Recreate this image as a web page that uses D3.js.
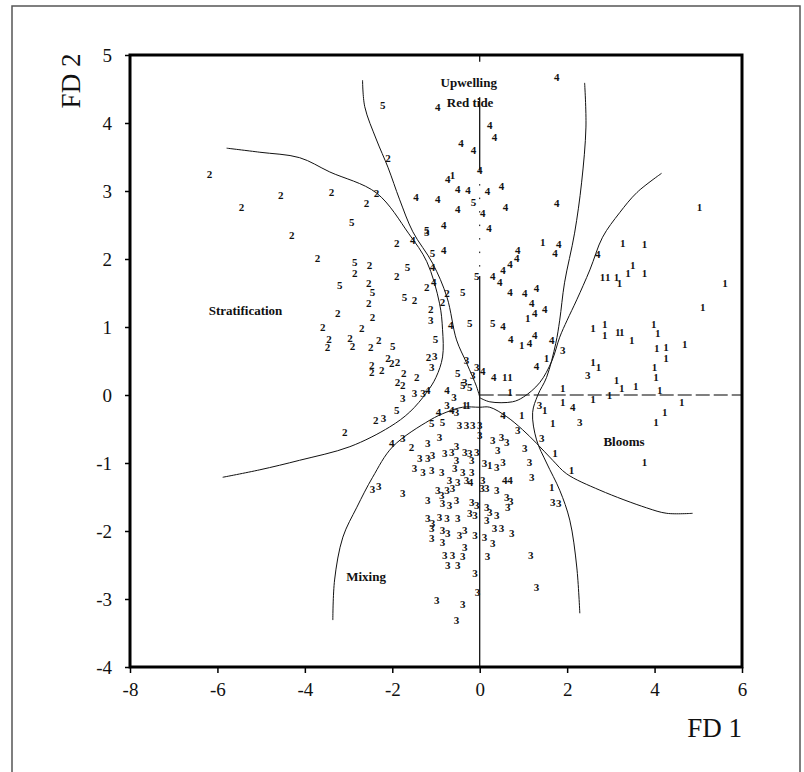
<!DOCTYPE html>
<html>
<head>
<meta charset="utf-8">
<title>FD1 / FD2</title>
<style>
  body { margin: 0; background: #fff; }
  svg { display: block; }
  text { font-family: "Liberation Serif", "DejaVu Serif", serif; }
</style>
</head>
<body>
<script src="https://cdn.jsdelivr.net/npm/d3@7"></script>
<script>
var width = 804, height = 772;

// axis ticks
var xTicks = [-8, -6, -4, -2, 0, 2, 4, 6];
var yTicks = [-4, -3, -2, -1, 0, 1, 2, 3, 4, 5];

// samples, one array per group (marker = group number)
var group1 = [[-0.62,3.24],[1.44,2.25],[3.27,2.24],[3.77,2.22],[5.03,2.76],[2.81,1.74],[2.93,1.74],[3.13,1.74],
  [3.20,1.65],[3.39,1.79],[3.50,1.91],[3.77,1.79],[5.61,1.65],[5.10,1.29],[2.59,0.99],[2.86,1.04],[2.86,0.88],
  [3.16,0.93],[3.25,0.93],[3.48,0.81],[3.98,1.04],[4.07,0.91],[4.05,0.69],[4.26,0.71],[4.26,0.54],[4.69,0.75],
  [2.59,0.49],[2.72,0.41],[4.00,0.41],[4.03,0.26],[3.13,0.22],[3.25,0.10],[3.57,0.13],[4.12,0.07],[1.90,0.10],
  [1.90,-0.10],[2.59,-0.06],[2.97,0.0],[4.62,-0.10],[4.23,-0.25],[4.03,-0.40],[3.77,-0.99],[1.67,-0.41],
  [1.72,-0.85],[2.10,-1.10],[1.49,-0.22],[0.96,-0.29],[0.69,0.04],[1.10,1.13],[0.96,0.74],[1.53,0.54],
  [0.57,0.26],[0.69,0.26],[-0.34,-0.15],[-0.27,-0.15],[0.23,-1.03],[1.65,-1.35]];

var group2 = [[-6.18,3.25],[-5.45,2.76],[-4.55,2.94],[-4.30,2.35],[-3.39,2.99],[-3.71,2.01],[-2.36,2.97],
  [-2.59,2.82],[-2.10,3.49],[-1.90,2.24],[-2.52,1.91],[-2.86,1.79],[-2.54,1.65],[-2.54,1.35],[-3.25,1.21],
  [-2.45,1.15],[-3.59,1.00],[-2.70,0.99],[-3.45,0.82],[-3.48,0.71],[-2.97,0.84],[-2.91,0.72],[-2.49,0.71],
  [-2.31,0.81],[-2.10,0.54],[-2.01,0.47],[-1.88,0.49],[-2.47,0.44],[-2.47,0.34],[-2.24,0.37],[-1.74,0.32],
  [-1.88,0.19],[-1.76,0.15],[-1.44,0.26],[-2.38,-0.37],[-3.09,-0.54],[-1.90,1.75],[-1.49,1.40],[-1.21,1.59],
  [-0.85,1.37],[-0.75,1.50],[-1.12,1.26],[-1.17,0.56],[-1.56,-0.76]];

var group3 = [[-1.76,-0.04],[-1.49,0.03],[-1.30,0.03],[-2.20,-0.34],[-1.12,1.10],[-1.03,0.57],[-1.10,0.41],
  [-0.30,0.51],[-0.16,0.29],[-0.07,0.41],[-0.34,0.19],[-0.59,-0.03],[-0.75,-0.15],[-0.53,-0.25],[-1.21,2.40],
  [2.47,0.29],[1.90,0.66],[1.37,-0.15],[2.29,-0.40],[0.87,-0.51],[1.42,-0.63],[1.03,-0.78],[1.14,-0.99],
  [1.19,-1.21],[1.67,-1.57],[1.81,-1.59],[1.17,-2.35],[1.30,-2.82],[-1.76,-0.63],[-1.19,-0.71],[-0.92,-0.62],
  [-2.45,-1.38],[-2.31,-1.34],[-1.76,-1.44],[-0.46,-0.44],[-0.30,-0.44],[-0.16,-0.44],[0.0,-0.44],[0.0,-0.59],
  [0.30,-0.66],[0.50,-0.62],[0.62,-0.69],[0.41,-0.81],[-1.37,-0.93],[-1.19,-0.93],[-1.08,-0.88],[-0.80,-0.85],
  [-0.64,-0.84],[-0.53,-0.75],[-0.34,-0.84],[-0.23,-0.85],[-0.07,-0.84],[-1.49,-1.07],[-1.30,-1.13],
  [-1.10,-1.10],[-0.87,-1.13],[-0.57,-1.07],[-0.39,-1.13],[-0.18,-1.13],[-0.53,-0.96],[-0.18,-0.96],
  [0.11,-1.00],[0.39,-1.06],[0.53,-0.99],[-0.69,-1.25],[-0.50,-1.28],[-0.30,-1.25],[0.07,-1.25],[-0.96,-1.40],
  [-0.75,-1.40],[-0.62,-1.37],[-0.87,-1.47],[0.05,-1.37],[0.16,-1.37],[0.39,-1.40],[0.62,-1.50],[-1.19,-1.54],
  [-0.85,-1.59],[-0.69,-1.62],[-0.53,-1.54],[-0.18,-1.57],[-0.07,-1.62],[0.16,-1.65],[0.23,-1.72],[0.39,-1.76],
  [0.64,-1.65],[0.71,-1.56],[-1.19,-1.81],[-1.08,-1.88],[-0.92,-1.79],[-0.75,-1.81],[-0.50,-1.81],[-0.23,-1.74],
  [-0.11,-1.76],[0.16,-1.84],[-1.10,-1.96],[-0.85,-1.99],[-0.73,-2.03],[-0.46,-2.06],[-0.34,-1.99],[-0.11,-2.06],
  [0.11,-2.09],[0.34,-1.96],[0.50,-1.96],[0.73,-2.03],[-1.10,-2.10],[-0.85,-2.16],[0.30,-2.18],[-0.80,-2.35],
  [-0.62,-2.35],[-0.34,-2.24],[-0.39,-2.37],[0.18,-2.37],[-0.73,-2.50],[-0.50,-2.50],[-0.11,-2.62],[-0.05,-2.90],
  [-0.98,-3.01],[-0.39,-3.07],[-0.53,-3.31]];

var group4 = [[1.76,4.68],[-0.96,4.24],[0.23,3.97],[0.34,3.79],[-0.43,3.71],[-0.14,3.60],[0.0,3.31],[-1.46,2.91],
  [-0.96,2.88],[-0.73,3.18],[-0.50,3.03],[-0.27,3.01],[0.18,3.00],[0.50,3.07],[-0.50,2.74],[0.07,2.68],[0.59,2.76],
  [0.21,2.46],[-0.82,2.50],[-1.53,2.28],[-0.82,2.13],[-1.08,1.88],[-1.05,1.66],[-0.66,1.03],[-0.75,0.07],
  [-1.19,0.07],[-0.94,-0.25],[-0.64,-0.22],[1.76,2.82],[1.81,2.22],[1.72,2.09],[2.70,2.07],[0.87,2.13],[0.85,2.01],
  [0.69,1.93],[0.53,1.84],[0.30,1.75],[0.46,1.66],[0.69,1.51],[1.03,1.50],[1.30,1.57],[1.19,1.35],[1.26,1.21],
  [1.49,1.26],[0.53,1.01],[0.71,0.82],[1.14,0.76],[1.26,0.88],[1.65,0.81],[1.30,0.43],[0.53,-0.29],[2.13,-0.18],
  [0.07,0.35],[0.32,0.26],[-2.01,-0.71],[-0.21,-1.28],[0.57,-1.25],[0.69,-1.25]];

var group5 = [[-2.22,4.26],[-2.93,2.54],[-2.86,1.96],[-3.20,1.62],[-2.45,1.51],[-1.99,0.72],[-1.90,-0.22],
  [-1.08,2.09],[-1.65,1.88],[-1.72,1.44],[-0.39,1.51],[-1.01,0.82],[-0.50,0.32],[-0.39,0.15],[-0.23,0.12],
  [-1.10,-0.41],[-0.85,-0.40],[-1.21,2.43],[-0.07,1.75],[0.30,1.06],[-0.23,1.06],[-0.14,2.84]];

var groups = [
  { label: "1", pts: group1 }, { label: "2", pts: group2 }, { label: "3", pts: group3 },
  { label: "4", pts: group4 }, { label: "5", pts: group5 }
];

// boundary curves between the regions
var curveStrat = [[-5.79,3.63],[-5.03,3.57],[-4.12,3.49],[-3.43,3.28],[-2.36,2.97],[-1.62,2.37],[-1.21,1.96],
  [-0.92,1.35],[-0.85,0.96],[-0.85,0.56],[-1.0,0.26],[-1.21,0.04],[-1.6,-0.25],[-2.06,-0.47],[-2.97,-0.76],
  [-4.12,-0.96],[-5.03,-1.10],[-5.88,-1.21]];
var curveUpper = [[-2.68,4.63],[-2.63,4.24],[-2.36,3.75],[-2.10,3.35],[-1.83,2.87],[-1.53,2.40],[-1.08,1.94],
  [-0.75,1.44],[-0.53,0.81],[-0.30,0.47],[-0.07,0.12],[0,-0.03]];
var curveMixing = [[-3.36,-3.31],[-3.32,-2.72],[-3.13,-2.09],[-2.81,-1.65],[-2.45,-1.21],[-1.99,-0.76],
  [-1.14,-0.37],[-0.75,-0.25],[-0.39,-0.18],[0,-0.18],[0.23,-0.18],[0.62,-0.32],[0.98,-0.51],[1.30,-0.71],
  [1.67,-0.96],[1.99,-1.16],[2.75,-1.40],[3.82,-1.66],[4.28,-1.74],[4.87,-1.74]];
var curveBloom = [[0,-0.04],[0.23,-0.10],[0.75,-0.10],[1.0,-0.03],[1.37,0.18],[1.65,0.50],[1.83,0.85],[2.0,1.1],
  [2.22,1.40],[2.52,1.84],[2.81,2.32],[3.20,2.68],[3.60,2.98],[4.16,3.26]];
var curveRight = [[2.40,4.59],[2.43,3.94],[2.33,3.12],[2.17,2.38],[1.94,1.65],[1.83,1.10],[1.74,0.76],
  [1.53,0.26],[1.33,0.0],[1.21,-0.26],[1.30,-0.66],[1.53,-1.0],[1.83,-1.40],[2.06,-1.84],[2.22,-2.53],[2.29,-3.21]];
var curves = [curveStrat, curveUpper, curveMixing, curveBloom, curveRight];

// region names
var regionNames = ["Upwelling", "Red tide", "Stratification", "Blooms", "Mixing"];
var regionPos = [[-0.25,4.6], [-0.22,4.3], [-6.2,1.25], [3.3,-0.69], [-2.6,-2.67]];

var svg = d3.select("body").append("svg")
  .attr("width", width)
  .attr("height", height);

// outer frame
svg.append("rect")
  .attr("x", 12).attr("y", 6)
  .attr("width", 788).attr("height", 800)
  .attr("fill", "none")
  .attr("stroke", "#555")
  .attr("stroke-width", 1.5);

var x = d3.scaleLinear().domain([-8, 6]).range([130, 742]);
var y = d3.scaleLinear().domain([-4, 5]).range([667, 55]);

var fmt = function(d) { return d < 0 ? "-" + Math.abs(d) : String(d); };

// zero lines
svg.append("line")
  .attr("x1", x(0)).attr("x2", x(0))
  .attr("y1", y(5)).attr("y2", y(4.9))
  .attr("stroke", "#000").attr("stroke-width", 1.2);
svg.append("line")
  .attr("x1", x(0)).attr("x2", x(0))
  .attr("y1", y(4.38)).attr("y2", y(3.3))
  .attr("stroke", "#000").attr("stroke-width", 1.2);
svg.append("line")
  .attr("x1", x(0)).attr("x2", x(0))
  .attr("y1", y(3.3)).attr("y2", y(1.75))
  .attr("stroke", "#000").attr("stroke-width", 1)
  .attr("stroke-dasharray", "1.5,12");
svg.append("line")
  .attr("x1", x(0)).attr("x2", x(0))
  .attr("y1", y(1.75)).attr("y2", y(-4))
  .attr("stroke", "#000").attr("stroke-width", 1.2);
svg.append("line")
  .attr("x1", x(0)).attr("x2", x(6))
  .attr("y1", y(0)).attr("y2", y(0))
  .attr("stroke", "#000").attr("stroke-width", 1.2)
  .attr("stroke-dasharray", "14,4");

// boundaries
var line = d3.line()
  .x(function(d) { return x(d[0]); })
  .y(function(d) { return y(d[1]); })
  .curve(d3.curveCatmullRom);

svg.selectAll(".boundary")
  .data(curves)
  .enter()
  .append("path")
  .attr("class", "boundary")
  .attr("d", line)
  .attr("fill", "none")
  .attr("stroke", "#111")
  .attr("stroke-width", 1);

// markers (group numbers)
groups.forEach(function(g) {
  svg.selectAll(".m" + g.label)
    .data(g.pts)
    .enter()
    .append("text")
    .attr("class", "m" + g.label)
    .attr("x", function(d) { return x(d[0]); })
    .attr("y", function(d) { return y(d[1]); })
    .attr("dy", "0.35em")
    .attr("text-anchor", "middle")
    .attr("font-size", 11)
    .attr("font-weight", "bold")
    .attr("fill", "#111")
    .text(g.label);
});

// region names
svg.selectAll(".region")
  .data(regionNames)
  .enter()
  .append("text")
  .attr("class", "region")
  .attr("x", function(d, i) { return x(regionPos[i][0]); })
  .attr("y", function(d, i) { return y(regionPos[i][1]); })
  .attr("dy", "0.35em")
  .attr("text-anchor", function(d, i) { return i == 2 ? "start" : "middle"; })
  .attr("font-size", 13)
  .attr("font-weight", "bold")
  .attr("fill", "#111")
  .text(function(d) { return d; });

// axes
var gx = svg.append("g")
  .attr("transform", "translate(0," + y(-4) + ")")
  .call(d3.axisBottom(x).tickValues(xTicks).tickFormat(fmt).tickSize(6).tickPadding(10));
var gy = svg.append("g")
  .attr("transform", "translate(" + x(-8) + ",0)")
  .call(d3.axisLeft(y).tickValues(yTicks).tickFormat(fmt).tickSize(5).tickPadding(13));

[gx, gy].forEach(function(g) {
  g.select(".domain").remove();
  g.selectAll(".tick line").attr("stroke", "#000").attr("stroke-width", 1.5);
  g.selectAll(".tick text")
    .attr("fill", "#111")
    .attr("font-size", 19)
    .attr("font-family", "Liberation Serif, serif");
});

// plot frame
svg.append("rect")
  .attr("x", x(-8)).attr("y", y(5))
  .attr("width", x(6) - x(-8)).attr("height", y(-4) - y(5))
  .attr("fill", "none")
  .attr("stroke", "#000")
  .attr("stroke-width", 3);

// axis titles
svg.append("text")
  .attr("transform", "translate(80," + 81 + ") rotate(-90)")
  .attr("text-anchor", "middle")
  .attr("font-size", 27)
  .attr("fill", "#111")
  .text("FD 2");
svg.append("text")
  .attr("x", 742).attr("y", 737)
  .attr("text-anchor", "end")
  .attr("font-size", 27)
  .attr("fill", "#111")
  .text("FD 1");
</script>
</body>
</html>
